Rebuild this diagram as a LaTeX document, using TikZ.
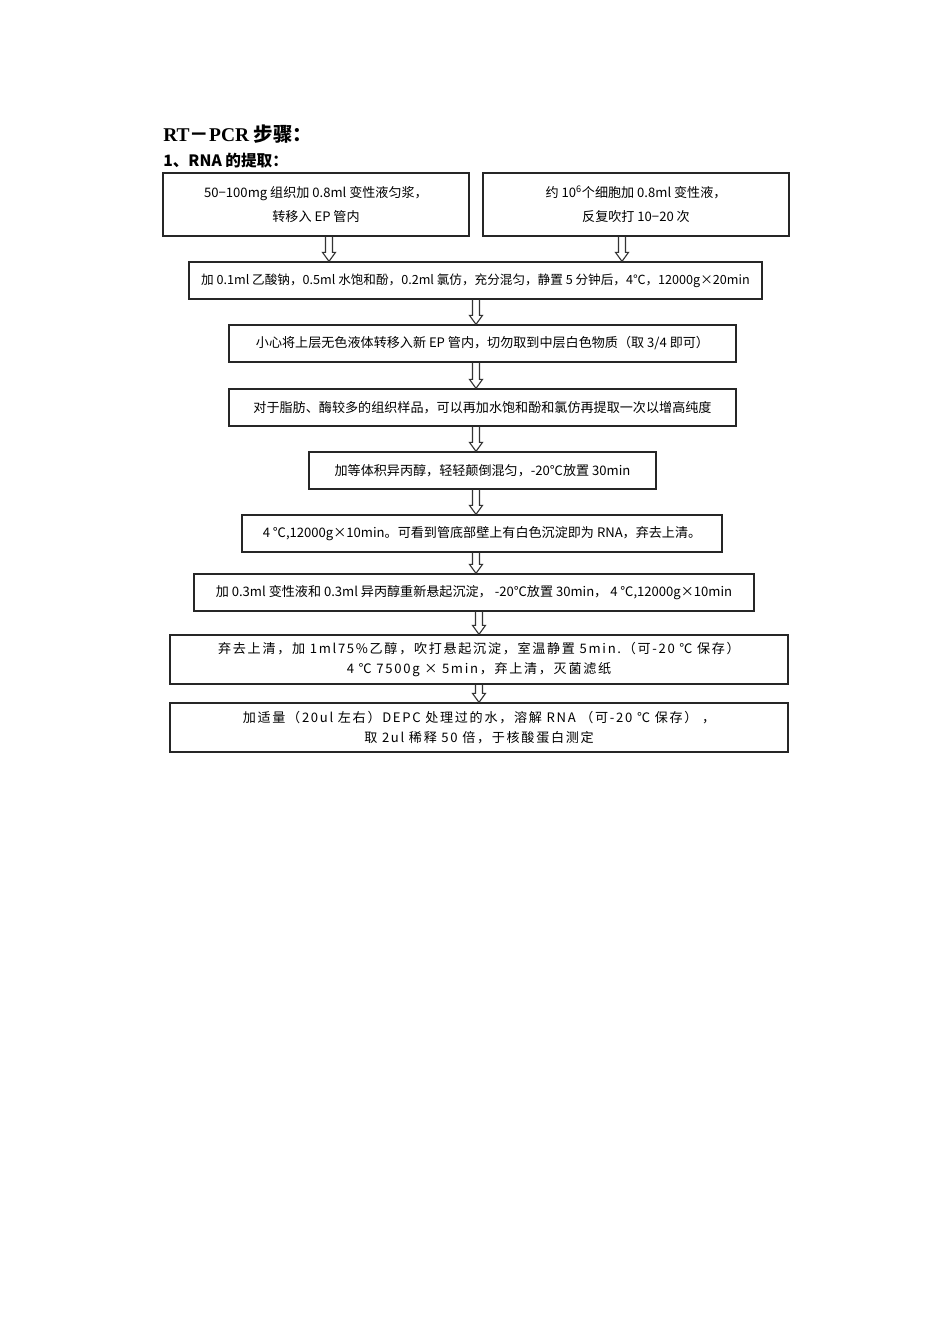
\documentclass[tikz,border=0pt]{standalone}
\usepackage{fontspec}
\setmainfont{Noto Sans CJK SC}
\newfontfamily\serifface{Liberation Serif}
\usetikzlibrary{calc}

\def\px{0.6266pt}
\tikzset{
  stepbox/.style 2 args={draw=black!85, line width=0.8pt, minimum width=#1*\px,
    minimum height=#2*\px, inner sep=0pt, align=center,
    font=\fontsize{8.2}{15.5}\selectfont},
  widebox/.style={font=\fontsize{8.2}{12.8}\selectfont\addfontfeatures{LetterSpace=13}},
  hollow/.style={draw=black!80, line width=0.7pt, line join=miter},
}
% hollow block arrow: x position, from node, to node
\newcommand{\hollowarrow}[3]{%
  \coordinate (xc) at (#1,0);
  \draw[hollow] ($(#2.south -| xc)+(-3.5,0)$) -- ($(#3.north -| xc)+(-3.5,-9)$)
    -- ++(-3,0) -- (#3.north -| xc) -- ++(6.5,-9) -- ++(-3,0)
    -- ($(#2.south -| xc)+(3.5,0)$);
}

\begin{document}
\begin{tikzpicture}[x=\px, y=-\px]
      \useasboundingbox (0,0) rectangle (950,1344);
      \draw
        (163,141) node[anchor=base west, inner sep=0pt, font=\fontsize{12.2}{14}\selectfont\bfseries] (title)
          {{\serifface RT}－{\serifface PCR} 步骤：}
        (163,166) node[anchor=base west, inner sep=0pt, font=\fontsize{9.8}{12}\selectfont\bfseries] (sub)
          {1、RNA 的提取：}
        (316,204.5) node[stepbox={306}{63}] (tissue)
          {50−100mg 组织加 0.8ml 变性液匀浆，\\转移入 EP 管内}
        (636,204.5) node[stepbox={306}{63}] (cells)
          {约 10\textsuperscript{6}个细胞加 0.8ml 变性液，\\反复吹打 10−20 次}
        (475.5,280.5) node[stepbox={573}{37}, font=\fontsize{7.9}{10}\selectfont] (phenol)
          {加 0.1ml 乙酸钠，0.5ml 水饱和酚，0.2ml 氯仿，充分混匀，静置 5 分钟后，4℃，12000g×20min}
        (482.5,343.5) node[stepbox={507}{37}] (upper)
          {小心将上层无色液体转移入新 EP 管内，切勿取到中层白色物质（取 3/4 即可）}
        (482.5,407.5) node[stepbox={507}{37}] (again)
          {对于脂肪、酶较多的组织样品，可以再加水饱和酚和氯仿再提取一次以增高纯度}
        (482.5,470.5) node[stepbox={347}{37}] (iso)
          {加等体积异丙醇，轻轻颠倒混匀，-20℃放置 30min}
        (482,533.5) node[stepbox={480}{37}] (spin)
          {4 ℃,12000g×10min。可看到管底部壁上有白色沉淀即为 RNA，弃去上清。}
        (474,592.5) node[stepbox={560}{37}] (resus)
          {加 0.3ml 变性液和 0.3ml 异丙醇重新悬起沉淀， -20℃放置 30min， 4 ℃,12000g×10min}
        (479,659.5) node[stepbox={618}{49}, widebox] (wash)
          {弃去上清，加 1ml75\%乙醇，吹打悬起沉淀，室温静置 5min.（可-20 ℃ 保存）\\4 ℃ 7500g × 5min，弃上清，灭菌滤纸}
        (479,727.5) node[stepbox={618}{49}, widebox] (dissolve)
          {加适量（20ul 左右）DEPC 处理过的水，溶解 RNA （可-20 ℃ 保存） ，\\取 2ul 稀释 50 倍，于核酸蛋白测定};
      \begin{scope}
        \hollowarrow{329}{tissue}{phenol}
        \hollowarrow{622}{cells}{phenol}
        \hollowarrow{476}{phenol}{upper}
        \hollowarrow{476}{upper}{again}
        \hollowarrow{476}{again}{iso}
        \hollowarrow{476}{iso}{spin}
        \hollowarrow{476}{spin}{resus}
        \hollowarrow{479}{resus}{wash}
        \hollowarrow{479}{wash}{dissolve}
      \end{scope}
    \end{tikzpicture}
\end{document}
